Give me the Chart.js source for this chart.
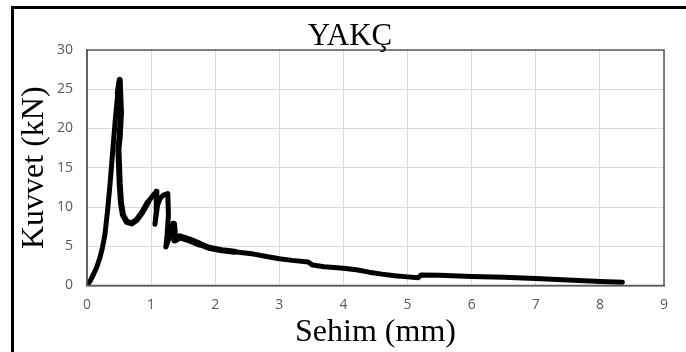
<!DOCTYPE html>
<html>
<head>
<meta charset="utf-8">
<script src="https://cdn.jsdelivr.net/npm/chart.js@4"></script>
<style>
  html, body { margin: 0; padding: 0; background: #fff; }
  #wrap { position: relative; width: 686px; height: 352px; }
</style>
</head>
<body>
<div id="wrap"><canvas id="c" width="686" height="352"></canvas></div>
<script>
// deflection (mm) vs load (kN)
const sehim = [0, 0.05, 0.1, 0.15, 0.2, 0.24, 0.28, 0.32, 0.36, 0.4, 0.44, 0.48, 0.51,
  0.53, 0.51, 0.49, 0.51, 0.53, 0.56, 0.62, 0.7, 0.78, 0.86, 0.95, 1.03, 1.09,
  1.08, 1.06, 1.1, 1.14, 1.19, 1.26, 1.27, 1.25, 1.23, 1.28, 1.35, 1.37,
  1.45, 1.6, 1.75, 1.9, 2.1, 2.3, 2.6, 2.8, 3.0, 3.2, 3.45, 3.52, 3.7, 4.0,
  4.2, 4.4, 4.6, 4.8, 5.0, 5.17, 5.21, 5.5, 6.0, 6.5, 7.0, 7.5, 8.0, 8.35];
const kuvvet = [0, 0.6, 1.4, 2.3, 3.5, 4.8, 6.5, 9.5, 13, 17, 21, 24.5, 26.2,
  22, 19, 17.3, 13, 10.5, 9.0, 8.1, 7.9, 8.4, 9.3, 10.6, 11.5, 12.0,
  9.5, 7.8, 10.2, 11.1, 11.5, 11.7, 9.0, 6.5, 4.9, 6.0, 7.8, 5.8,
  6.2, 5.8, 5.3, 4.8, 4.5, 4.3, 4.0, 3.7, 3.4, 3.2, 3.0, 2.6, 2.4, 2.2,
  2.0, 1.7, 1.45, 1.25, 1.1, 1.0, 1.35, 1.3, 1.15, 1.05, 0.9, 0.7, 0.5, 0.4];

const xTicks = [0, 9, 1];   // min, max, step
const yTicks = [0, 30, 5];

const chartTitle = 'YAKÇ';
const xTitle = 'Sehim (mm)';
const yTitle = 'Kuvvet (kN)';

const points = sehim.map((x, i) => ({x: x, y: kuvvet[i]}));

const serif = '"Liberation Serif", "Times New Roman", serif';
const tickFont = {family: '"Open Sans", sans-serif', size: 14};

// outer frame, plot border and the title
const decor = {
  id: 'decor',
  beforeDraw(chart) {
    const ctx = chart.ctx;
    ctx.save();
    ctx.fillStyle = '#000';
    ctx.fillRect(11, 6, 680, 3);
    ctx.fillRect(11, 6, 3, 350);
    ctx.restore();
  },
  afterDraw(chart) {
    const ctx = chart.ctx;
    const a = chart.chartArea;
    ctx.save();
    ctx.strokeStyle = '#595959';
    ctx.lineWidth = 1.5;
    ctx.strokeRect(a.left, a.top, a.right - a.left, a.bottom - a.top);
    ctx.fillStyle = '#000';
    ctx.font = '31px ' + serif;
    ctx.textAlign = 'center';
    ctx.textBaseline = 'alphabetic';
    ctx.fillText(chartTitle, 350, 45);
    ctx.restore();
  }
};

// the recorded trace is a noisy band: wider around the spikes and just after them
function bandWidth(ctx) {
  const x = ctx.p0.parsed.x;
  if (x >= 0.45 && x < 0.9) return 6;
  if (x >= 1.3 && x < 1.75) return 7;
  if (x >= 1.75 && x < 2.3) return 6;
  return 5;
}

new Chart(document.getElementById('c'), {
  type: 'line',
  data: {
    datasets: [{
      data: points,
      borderColor: '#000',
      backgroundColor: '#000',
      borderWidth: 5,
      borderJoinStyle: 'round',
      borderCapStyle: 'round',
      pointRadius: 0,
      tension: 0,
      segment: {borderWidth: bandWidth}
    }]
  },
  options: {
    responsive: false,
    animation: false,
    layout: {padding: {left: 12, right: 22, top: 50, bottom: 0}},
    plugins: {
      legend: {display: false},
      tooltip: {enabled: false}
    },
    scales: {
      x: {
        type: 'linear',
        min: xTicks[0], max: xTicks[1],
        afterFit(s) { s.height = 66.5; },
        ticks: {stepSize: xTicks[2], color: '#595959', font: tickFont, padding: 11},
        grid: {color: '#d9d9d9', lineWidth: 1, drawTicks: false},
        border: {color: '#595959', width: 1.5},
        title: {display: true, text: xTitle, color: '#000',
          font: {family: serif, size: 32}, padding: {top: 0, bottom: 0}}
      },
      y: {
        min: yTicks[0], max: yTicks[1],
        afterFit(s) { s.width = 75; },
        ticks: {stepSize: yTicks[2], color: '#595959', font: tickFont, padding: 14},
        grid: {color: '#d9d9d9', lineWidth: 1, drawTicks: false},
        border: {color: '#595959', width: 1.5},
        title: {display: true, text: yTitle, color: '#000',
          font: {family: serif, size: 32}, padding: {top: 3, bottom: 0}}
      }
    }
  },
  plugins: [decor]
});
</script>
</body>
</html>
